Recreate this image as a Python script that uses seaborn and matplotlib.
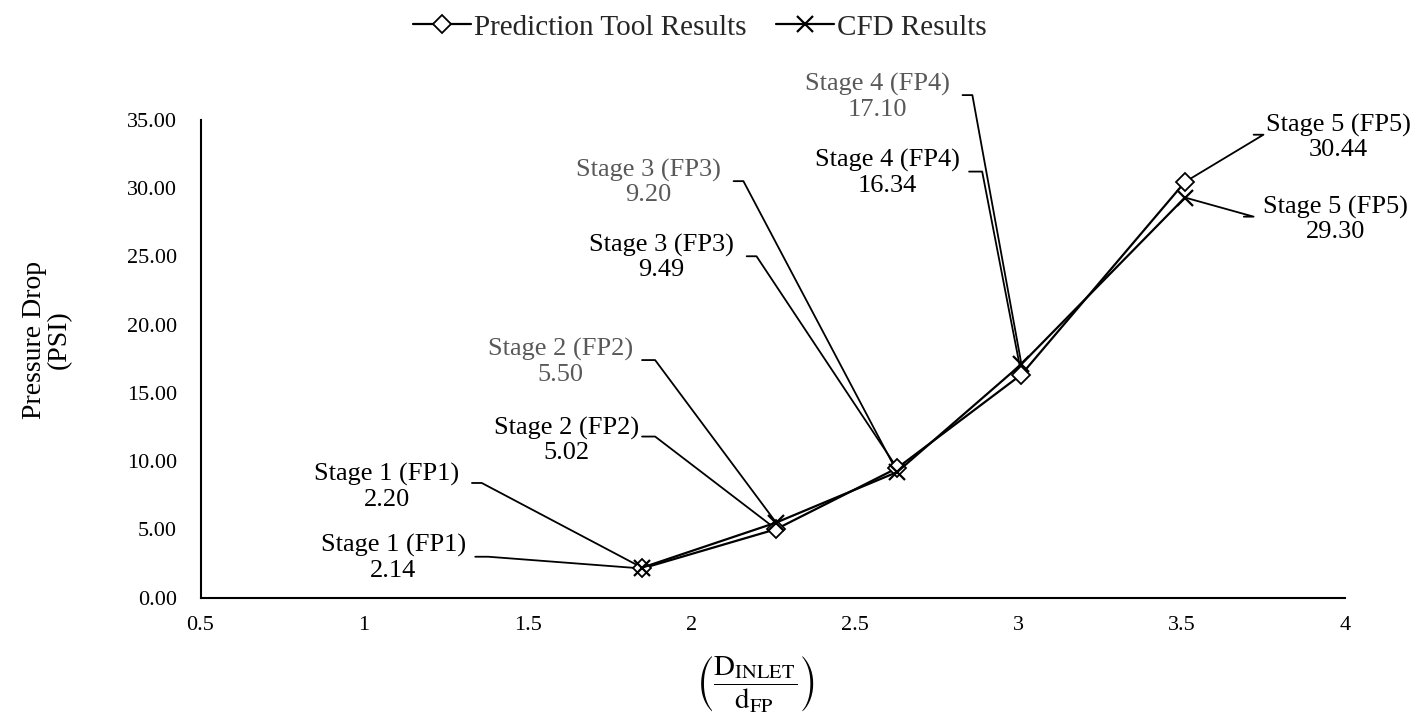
import matplotlib
matplotlib.use("Agg")
import matplotlib.pyplot as plt
import seaborn as sns
import numpy as np
import pandas as pd

# ---- data ----
stages = ["Stage 1 (FP1)", "Stage 2 (FP2)", "Stage 3 (FP3)", "Stage 4 (FP4)", "Stage 5 (FP5)"]
diameter_ratio = [1.85, 2.26, 2.63, 3.01, 3.51]
prediction_psi = [2.14, 5.02, 9.49, 16.34, 30.44]
cfd_psi = [2.20, 5.50, 9.20, 17.10, 29.30]
series_names = ["Prediction Tool Results", "CFD Results"]
x_ticks = [0.5, 1, 1.5, 2, 2.5, 3, 3.5, 4]
y_ticks = [0, 5, 10, 15, 20, 25, 30, 35]

# ---- label layout (text centre x, text centre y, leader start x, leader elbow x, leader y, colour) ----
GRAY = "#595959"
pred_label_layout = [
    (1.09, 2.9, 1.34, 1.38, 3.0, "black"),
    (1.62, 11.5, 1.85, 1.89, 11.8, "black"),
    (1.91, 24.9, 2.17, 2.20, 25.0, "black"),
    (2.60, 31.1, 2.85, 2.89, 31.2, "black"),
    (3.98, 33.7, 3.72, 3.75, 33.9, "black"),
]
cfd_label_layout = [
    (1.07, 8.1, 1.33, 1.36, 8.4, "black"),
    (1.60, 17.25, 1.85, 1.89, 17.4, GRAY),
    (1.87, 30.4, 2.13, 2.16, 30.5, GRAY),
    (2.57, 36.65, 2.83, 2.86, 36.8, GRAY),
    (3.97, 27.7, 3.69, 3.72, 27.9, "black"),
]

df = pd.DataFrame({
    "ratio": diameter_ratio * 2,
    "psi": prediction_psi + cfd_psi,
    "series": [series_names[0]] * 5 + [series_names[1]] * 5,
})

sns.set_theme(style="white")
plt.rcParams["font.family"] = ["Liberation Serif", "DejaVu Serif"]
plt.rcParams["mathtext.fontset"] = "stix"

fig = plt.figure(figsize=(14.22, 7.21), dpi=100)
ax = fig.add_axes([0.141, 0.171, 0.805, 0.663])

sns.lineplot(data=df[df.series == series_names[0]], x="ratio", y="psi", ax=ax,
             color="black", lw=1.6, marker="D", markersize=9, markerfacecolor="white",
             markeredgecolor="black", markeredgewidth=1.3, label=series_names[0], sort=False)
sns.lineplot(data=df[df.series == series_names[1]], x="ratio", y="psi", ax=ax,
             color="black", lw=1.6, marker="x", markersize=11, markeredgecolor="black",
             markeredgewidth=1.6, label=series_names[1], sort=False)

ax.set_xlim(0.5, 4)
ax.set_ylim(0, 35)
ax.set_xticks(x_ticks)
ax.set_xticklabels([f"{t:g}" for t in x_ticks])
ax.set_yticks(y_ticks)
ax.set_yticklabels([f"{t:.2f}" for t in y_ticks])
ax.tick_params(axis="both", length=0, labelsize=16, colors="black")
ax.tick_params(axis="x", pad=13)
ax.tick_params(axis="y", pad=17)
for s in ["top", "right"]:
    ax.spines[s].set_visible(False)
for s in ["left", "bottom"]:
    ax.spines[s].set_color("black")
    ax.spines[s].set_linewidth(1.5)
ax.grid(False)

# annotations
def annotate(values, layout):
    for name, x, y, (tx, ty, lx0, lx1, ly, col) in zip(stages, diameter_ratio, values, layout):
        ax.text(tx, ty, f"{name}\n{y:.2f}", ha="center", va="center", fontsize=19,
                color=col, linespacing=1.15, clip_on=False)
        ax.plot([lx0, lx1, x], [ly, ly, y], color="black", lw=1.3, clip_on=False, zorder=1)

annotate(prediction_psi, pred_label_layout)
annotate(cfd_psi, cfd_label_layout)

ax.set_ylabel("Pressure Drop\n(PSI)", fontsize=20, color="black", linespacing=1.0)
ax.yaxis.set_label_coords(-0.134, 0.54)
ax.yaxis.label.set_va("center")
ax.set_xlabel(r"$\left(\dfrac{\mathrm{D}_{\mathrm{INLET}}}{\mathrm{d}_{\mathrm{FP}}}\right)$",
              fontsize=21, color="black")
ax.xaxis.set_label_coords(0.485, -0.18)
ax.xaxis.label.set_va("center")

handles, labels = ax.get_legend_handles_labels()
if ax.get_legend() is not None:
    ax.get_legend().remove()
fig.legend(handles, labels, loc="center", bbox_to_anchor=(0.492, 0.962), ncol=2,
           frameon=False, fontsize=21, handlelength=2.0, handletextpad=0.1,
           columnspacing=1.0)

fig.savefig("out.png", dpi=100)
